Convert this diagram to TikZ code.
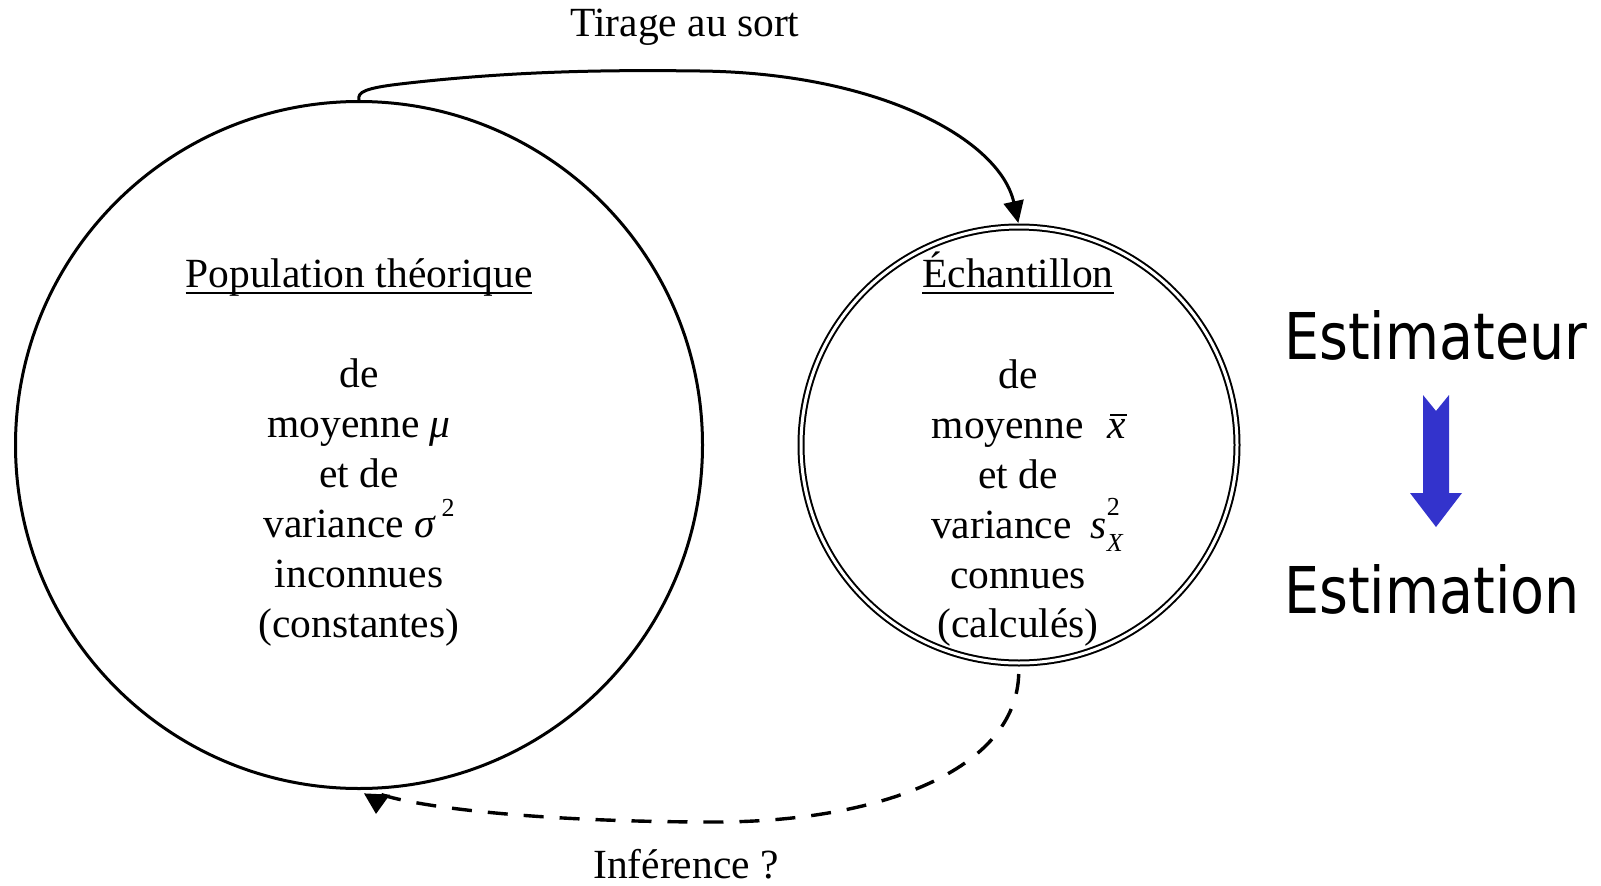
\documentclass[tikz,border=0pt]{standalone}
\usepackage{fontspec}
\setmainfont{Liberation Serif}
\newfontfamily\tahoma[FakeStretch=0.86]{DejaVu Sans}
\usetikzlibrary{arrows.meta}
\definecolor{arrowblue}{RGB}{51,51,204}
\newsavebox\myulbox
\newcommand{\myul}[1]{\sbox\myulbox{#1}\rlap{\rule[-7pt]{\wd\myulbox}{2pt}}\usebox\myulbox}
\newsavebox\myxbox
\newcommand{\myxbar}{\sbox\myxbox{\itshape x}\rlap{\kern0.12\wd\myxbox\rule[0.53em]{0.9\wd\myxbox}{1.6pt}}\usebox\myxbox}
\newcommand{\mysmall}{\fontsize{26}{26}\selectfont}
\begin{document}
\begin{tikzpicture}[x=1pt,y=-1pt,
  txt/.style={font=\fontsize{41.5}{50}\selectfont, inner sep=0pt, anchor=base},
  side/.style={font=\tahoma\fontsize{64.5}{70}\selectfont, inner sep=0pt, anchor=base west},
  ring/.style={circle, draw, inner sep=0pt},
  drawarrow/.style={line width=3pt, -{Triangle[length=22pt,width=20pt]}},
  infarrow/.style={line width=3.4pt, dash pattern=on 20pt off 16pt, -{Triangle[length=20pt,width=25pt]}},
]
\useasboundingbox[fill=white] (0,0) rectangle (1601,886);

% circles
\node[ring, line width=3pt, minimum size=687pt] (pop) at (359,445) {};
\node[ring, double, double distance=3pt, line width=2pt, minimum size=436pt] (ech) at (1019,445) {};

% texts in population
\node[txt] (popt) at (359,287) {\myul{Population théorique}};
\node[txt] (pop1) at (359,387) {de};
\node[txt] (pop2) at (359,437) {moyenne {\itshape μ}};
\node[txt] (pop3) at (359,487) {et de};
\node[txt] (pop4) at (359,537) {variance {\itshape σ}\,\raisebox{0.5em}{\mysmall 2}};
\node[txt] (pop5) at (359,587) {inconnues};
\node[txt] (pop6) at (359,637) {(constantes)};

% texts in sample
\node[txt] (echt) at (1018,287) {\myul{Échantillon}};
\node[txt] (ech1) at (1018,388) {de};
\node[txt] (ech2) at (1029,438) {moyenne\hspace{24pt}\myxbar};
\node[txt] (ech3) at (1018,488) {et de};
\node[txt] (ech4) at (1027,538) {variance\hspace{19pt}{\itshape s}\rlap{\raisebox{0.55em}{\mysmall 2}}\raisebox{-0.32em}{\mysmall\itshape X}};
\node[txt] (ech5) at (1018,588) {connues};
\node[txt] (ech6) at (1018,637) {(calculés)};

% labels
\node[txt] (tir) at (685,36) {Tirage au sort};
\node[txt] (inf) at (686,878) {Inférence ?};

% top arrow
\draw[drawarrow, shorten >=3pt] (pop.north) .. controls (357,92) and (366,88) .. (400,84)
  .. controls (520,70) and (620,70) .. (700,71)
  .. controls (880,73) and (1000,140) .. (ech.north);

% dashed arrow
\coordinate (infend) at (376,814);
\draw[infarrow, shorten <=10pt] (ech.south) .. controls (1016,770) and (880,822) .. (715,822)
  .. controls (530,822) and (410,806) .. (377,793) -- (infend);

% right side
\node[side] (est1) at (1284,359) {Estimateur};
\node[side] (est2) at (1284,613) {Estimation};
\fill[arrowblue] (1423,395) -- (1436,411) -- (1449,395) -- (1449,493) -- (1462,493)
  -- (1436,527) -- (1410,493) -- (1423,493) -- cycle;
\end{tikzpicture}
\end{document}
